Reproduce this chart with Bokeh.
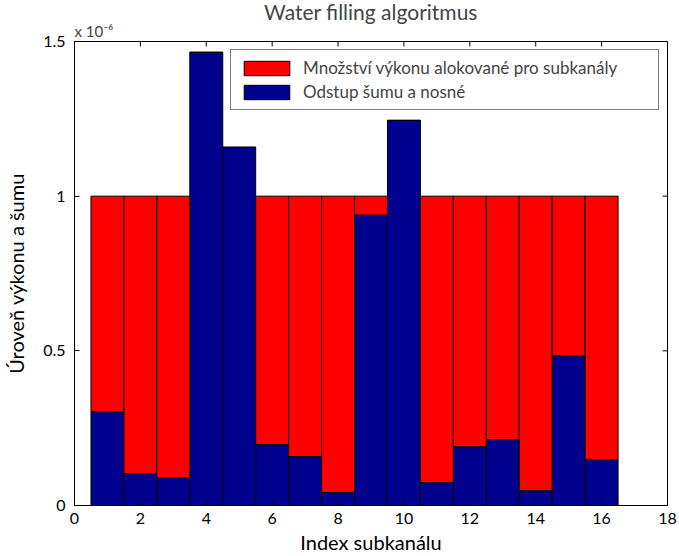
import math
from bokeh.plotting import figure
from bokeh.models import (ColumnDataSource, Range1d, FixedTicker, Legend,
                          LegendItem, Title, CustomJSTickFormatter)
from bokeh.embed import file_html
from bokeh.resources import INLINE

# Data (values in units of 1e-6)
channels = list(range(1, 17))
noise = [0.303, 0.103, 0.090, 1.465, 1.158, 0.197, 0.158, 0.042,
         0.939, 1.245, 0.074, 0.190, 0.213, 0.048, 0.484, 0.148]
power = [0.697, 0.897, 0.910, 0.0, 0.0, 0.803, 0.842, 0.958,
         0.061, 0.0, 0.926, 0.810, 0.787, 0.952, 0.516, 0.852]
x_ticks = [0, 2, 4, 6, 8, 10, 12, 14, 16, 18]
y_ticks = [0, 0.5, 1, 1.5]
x_min, x_max = 0, 18
y_min, y_max = 0, 1.5
title_text = "Water filling algoritmus"
exponent_text = "x 10\u207b\u2076"
x_label = "Index subkanálu"
y_label = "Úroveň výkonu a šumu"
legend_labels = ["Množství výkonu alokované pro subkanály", "Odstup šumu a nosné"]

FONT = "Lato"
RED = "#FF0000"
BLUE = "#00008F"

src = ColumnDataSource(dict(x=channels, noise=noise, power=power))

p = figure(width=679, height=556, output_backend="svg", toolbar_location=None,
           x_range=Range1d(x_min, x_max), y_range=Range1d(y_min, y_max),
           min_border_left=74, min_border_right=12, min_border_top=41, min_border_bottom=50,
           title=None)
p.background_fill_color = "white"
p.border_fill_color = "white"
p.grid.visible = False
p.outline_line_color = "black"
p.outline_line_width = 1

r = p.vbar_stack(["noise", "power"], x="x", width=1.0, source=src,
                 color=[BLUE, RED], line_color="black", line_width=1)

# inward ticks on top and right sides
p.ray(x=x_ticks, y=[y_max] * len(x_ticks), length=5, length_units="screen",
      angle=-math.pi / 2, line_color="black", line_width=1)
p.ray(x=[x_max] * len(y_ticks), y=y_ticks, length=5, length_units="screen",
      angle=math.pi, line_color="black", line_width=1)

# exponent label (closest to frame) and main title
p.add_layout(Title(text=exponent_text, align="left", text_font=FONT, text_font_size="15px",
                   text_font_style="normal", standoff=4, offset=0), "above")
p.add_layout(Title(text=title_text, align="center", text_font=FONT, text_font_size="21px",
                   text_font_style="normal", standoff=-13), "above")

for ax in (p.xaxis[0], p.yaxis[0]):
    ax.major_tick_in = 5
    ax.major_tick_out = 0
    ax.minor_tick_in = 0
    ax.minor_tick_out = 0
    ax.axis_line_color = "black"
    ax.major_label_text_font = FONT
    ax.major_label_text_font_size = "16px"
    ax.major_label_text_color = "black"
    ax.axis_label_text_font = FONT
    ax.axis_label_text_font_size = "20px"
    ax.axis_label_text_font_style = "normal"
    ax.axis_label_text_color = "black"

p.xaxis[0].ticker = FixedTicker(ticks=x_ticks)
p.yaxis[0].ticker = FixedTicker(ticks=y_ticks)
p.xaxis[0].axis_label = x_label
p.yaxis[0].axis_label = y_label
p.xaxis[0].major_label_standoff = 7
p.yaxis[0].major_label_standoff = 9
p.xaxis[0].axis_label_standoff = 3
p.yaxis[0].axis_label_standoff = 12
p.yaxis[0].formatter = CustomJSTickFormatter(code="return String(tick);")

legend = Legend(items=[LegendItem(label=legend_labels[0], renderers=[r[1]]),
                       LegendItem(label=legend_labels[1], renderers=[r[0]])],
                location="top_right", border_line_color="black", border_line_width=1,
                label_text_font=FONT, label_text_font_size="17px",
                glyph_width=57, glyph_height=18, label_height=18, spacing=3, padding=7,
                margin=8, label_standoff=8, label_width=348, background_fill_alpha=1)
p.add_layout(legend, "center")

open("out.html", "w").write(file_html(p, INLINE))
